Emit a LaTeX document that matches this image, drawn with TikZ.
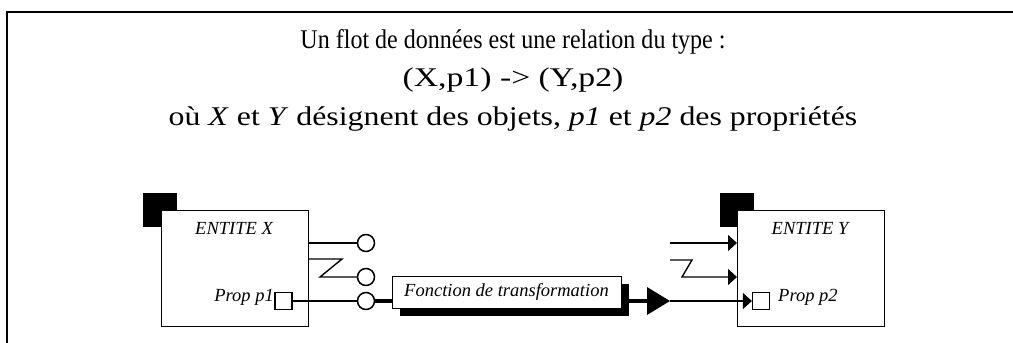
\documentclass[tikz,border=0pt]{standalone}
\usepackage{fontspec}
\setmainfont{Liberation Serif}
\usetikzlibrary{arrows.meta}
\begin{document}
\begin{tikzpicture}[x=1pt,y=-1pt,
  frameline/.style={line width=2pt},
  entbox/.style={draw, line width=1pt, fill=white, minimum width=147pt, minimum height=116pt, inner sep=0pt},
  tabsq/.style={fill=black, minimum size=34pt, inner sep=0pt},
  conn/.style={line width=1.4pt},
  port/.style={circle, draw, line width=1.5pt, fill=white, minimum size=17pt, inner sep=0pt},
  propsq/.style={draw, line width=1.2pt, fill=white, minimum size=17pt, inner sep=0pt},
  lab/.style={font=\fontsize{18.5}{20}\selectfont\itshape, inner sep=0pt, anchor=base},
  titletxt/.style={font=\fontsize{27}{30}\selectfont, inner sep=0pt, anchor=base},
  funcbox/.style={draw, line width=1pt, fill=white, minimum width=229pt, minimum height=32pt, inner sep=0pt},
  shadowbox/.style={fill=black, minimum width=229pt, minimum height=32pt, inner sep=0pt},
  thicklink/.style={line width=3.5pt},
  arr/.style={-{Triangle[length=9pt,width=16pt]}}
]
\useasboundingbox (0,0) rectangle (1013,343);
\draw[frameline] (1013,12) -- (7,12) -- (7,343);

% titles
\node[titletxt] (t1) at (513,48) {\scalebox{0.89}[1]{Un flot de données est une relation du type :}};
\node[titletxt] (t2) at (513,86) {\scalebox{1.25}[1]{(X,p1) -> (Y,p2)}};
\node[titletxt] (t3) at (513,125) {\scalebox{1.18}[1]{où \textit{X} et \textit{Y} désignent des objets, \textit{p1} et \textit{p2} des propriétés}};

% entity X
\node[tabsq] (tabX) at (160,210) {};
\node[entbox] (entX) at (234.5,268) {};
\node[lab] (nameX) at (234,234) {ENTITE X};
\node[propsq] (sq1) at (283.5,301) {};
\node[lab, anchor=base east] (p1) at (274,301) {Prop p1};

% entity Y
\node[tabsq] (tabY) at (737,210) {};
\node[entbox] (entY) at (811,268) {};
\node[lab] (nameY) at (810,234) {ENTITE Y};
\node[propsq] (sq2) at (761,301) {};
\node[lab, anchor=base west] (p2) at (778,301) {Prop p2};

% ports of X
\node[port] (c1) at (366,243) {};
\node[port] (c2) at (366,277) {};
\node[port] (c3) at (366,301) {};
\draw[conn] (entX.east |- c1) -- (c1.west);
\draw[conn] (entX.east |- 0,259) -- (342,259) -- (320,277) -- (c2.west);
\draw[conn] (sq1.east) -- (c3.west);

% function
\node[shadowbox] (fsh) at (514.5,300) {};
\node[funcbox, font=\fontsize{18.5}{20}\selectfont\itshape] (func) at (506.5,292) {Fonction de transformation};
\draw[thicklink] (c3.east) -- (func.west |- c3);
\coordinate (tb) at (647,301);
\coordinate (tip) at (670,301);
\draw[thicklink] (fsh.east |- tb) -- (tb);
\fill (647,287) -- (tip) -- (647,315) -- cycle;
\draw[conn, arr] (tip) -- (sq2.west);

% inputs of Y
\coordinate (in1) at (670,243);
\coordinate (in2) at (670,260);
\draw[conn, arr] (in1) -- (entY.west |- in1);
\draw[conn, arr] (in2) -- (692,260) -- (682,277) -- (entY.west |- 0,277);
\end{tikzpicture}
\end{document}
